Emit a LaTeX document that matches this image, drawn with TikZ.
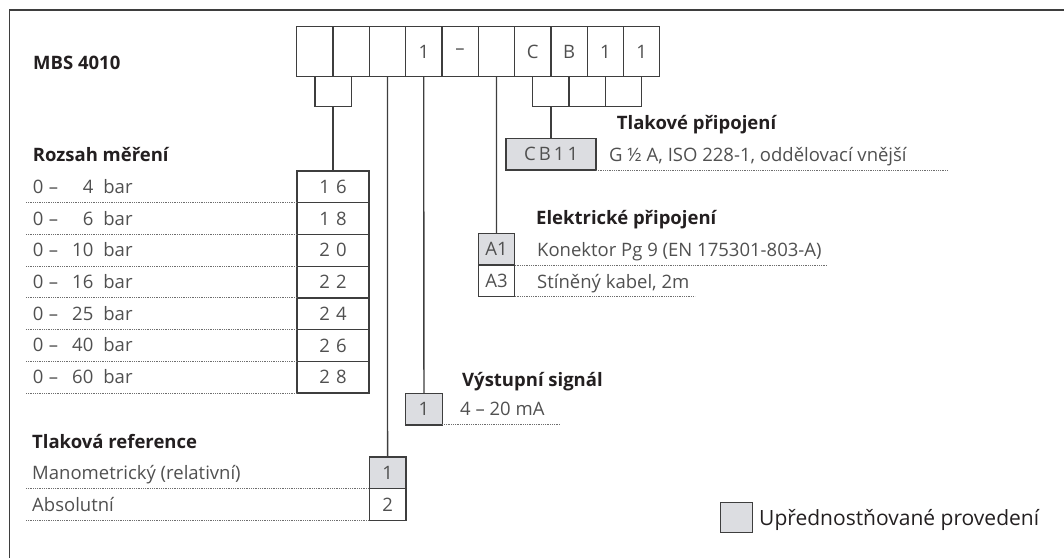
\documentclass[tikz,border=0pt]{standalone}
\usepackage{fontspec}
\setmainfont{Open Sans}
\usepackage{tikz}
\usetikzlibrary{positioning}
\definecolor{mbsline}{RGB}{62,62,62}
\definecolor{mbsfill}{RGB}{220,221,225}
\definecolor{mbstext}{RGB}{80,80,80}
\definecolor{mbshead}{RGB}{35,31,32}
\definecolor{mbsdot}{RGB}{110,110,110}
\newcommand{\bodyfont}{\fontsize{18.5}{22}\selectfont}
\newcommand{\barrow}[1]{\makebox[14.5pt][l]{0}\makebox[12pt][c]{–}\makebox[34pt][r]{#1}\hspace{10pt}bar}
\tikzstyle{codebox} = [rectangle, draw=mbsline, line width=1.3pt, minimum width=36.3pt, minimum height=50pt, inner sep=0pt, outer sep=0pt, text=mbstext, font=\bodyfont]
\tikzstyle{rangebox} = [codebox, minimum width=72pt, minimum height=31.7pt]
\tikzstyle{optbox} = [codebox, minimum width=36.5pt, minimum height=31.7pt]
\tikzstyle{pref} = [fill=mbsfill]
\tikzstyle{heading} = [anchor=west, inner sep=0pt, text height=13pt, text depth=0pt, text=mbshead, font=\bodyfont\bfseries]
\tikzstyle{valtext} = [anchor=west, inner sep=0pt, text height=13pt, text depth=0pt, text=mbstext, font=\bodyfont]
\tikzstyle{link} = [draw=mbsline, line width=1.3pt]
\tikzstyle{guide} = [draw=mbsdot, line width=0.8pt, densely dotted]

\begin{document}
\begin{tikzpicture}[x=1pt, y=-1pt]
\useasboundingbox (0,0) rectangle (1064,558);
\draw[link] (9.3,558) -- (9.3,10) -- (1064,10);
\coordinate (lm) at (26,0);

% type code
\node (mbs) [heading] at (33,63) {MBS 4010};
\node (c1) [codebox] at (314.9,51.7) {};
\node (c2) [codebox, right=0pt of c1] {};
\node (c3) [codebox, right=0pt of c2] {};
\node (c4) [codebox, right=0pt of c3] {1};
\node (c5) [codebox, right=0pt of c4] {–};
\node (c6) [codebox, right=0pt of c5] {};
\node (c7) [codebox, right=0pt of c6] {C};
\node (c8) [codebox, right=0pt of c7] {B};
\node (c9) [codebox, right=0pt of c8] {1};
\node (c10) [codebox, right=0pt of c9] {1};
\coordinate (br12) at (333.05,106.7);
\coordinate (br710) at (551.05,106.7);

% measuring range
\node (rzhead) [heading] at (32.7,155) {Rozsah měření};
\node (r16) [rangebox] at (333.05,186.9) {1\,\,6};
\node (r18) [rangebox, below=0pt of r16] {1\,\,8};
\node (r20) [rangebox, below=0pt of r18] {2\,\,0};
\node (r22) [rangebox, below=0pt of r20] {2\,\,2};
\node (r24) [rangebox, below=0pt of r22] {2\,\,4};
\node (r26) [rangebox, below=0pt of r24] {2\,\,6};
\node (r28) [rangebox, below=0pt of r26] {2\,\,8};
\node (t16) [valtext] at (32.7,186.9) {\barrow{4}};
\node (t18) [valtext] at (32.7,218.6) {\barrow{6}};
\node (t20) [valtext] at (32.7,250.3) {\barrow{10}};
\node (t22) [valtext] at (32.7,282.0) {\barrow{16}};
\node (t24) [valtext] at (32.7,313.7) {\barrow{25}};
\node (t26) [valtext] at (32.7,345.4) {\barrow{40}};
\node (t28) [valtext] at (32.7,377.1) {\barrow{60}};
\draw[guide] (lm |- r16.south) -- (r16.south west);
\draw[guide] (lm |- r18.south) -- (r18.south west);
\draw[guide] (lm |- r20.south) -- (r20.south west);
\draw[guide] (lm |- r22.south) -- (r22.south west);
\draw[guide] (lm |- r24.south) -- (r24.south west);
\draw[guide] (lm |- r26.south) -- (r26.south west);
\draw[guide] (lm |- r28.south) -- (r28.south west);

% pressure reference
\node (trhead) [heading] at (32,442) {Tlaková reference};
\node (tr1) [optbox, pref] at (387.6,472.8) {1};
\node (tr2) [optbox, below=0pt of tr1] {2};
\node (trt1) [valtext] at (32,473) {Manometrický (relativní)};
\node (trt2) [valtext] at (32,505) {Absolutní};
\draw[guide] (lm |- tr1.south) -- (tr1.south west);
\draw[guide] (lm |- tr2.south) -- (tr2.south west);

% output signal
\node (vshead) [heading] at (462,380) {Výstupní signál};
\node (vs1) [optbox, pref] at (423.9,409) {1};
\node (vst) [valtext] at (460,409) {4 – 20 mA};
\draw[guide] (vs1.south east) -- ++(118,0);

% electrical connection
\node (elhead) [heading] at (536,218) {Elektrické připojení};
\node (a1) [optbox, pref] at (496.5,249.2) {A1};
\node (a3) [optbox, below=0pt of a1] {A3};
\node (a1t) [valtext] at (537,250) {Konektor Pg 9 (EN 175301-803-A)};
\node (a3t) [valtext] at (537,281.5) {Stíněný kabel, 2m};
\draw[guide] (a1.south east) -- ++(312,0);
\draw[guide] (a3.south east) -- ++(180,0);

% pressure connection
\node (tlhead) [heading] at (616.7,123) {Tlakové připojení};
\node (cb) [codebox, pref, minimum width=90pt, minimum height=31.7pt] at (551.05,154.2) {C\,B\,1\,1};
\node (cbt) [valtext] at (609,154.5) {G ½ A, ISO 228-1, oddělovací vnější};
\draw[guide] (cb.south east) -- ++(352,0);

% connectors
\draw[link] (c1.south) |- (br12) -| (c2.south);
\draw[link] (br12) -- (r16.north);
\draw[link] (c3.south) -- (tr1.north);
\draw[link] (c4.south) -- (vs1.north);
\draw[link] (c6.south) -- (a1.north);
\draw[link] (c7.south) |- (br710) -| (c10.south);
\draw[link] (c8.south) -- (c8.south |- br710);
\draw[link] (c9.south) -- (c9.south |- br710);
\draw[link] (br710) -- (cb.north);

% legend
\node (lgbox) [codebox, pref, minimum width=32pt, minimum height=29.6pt] at (736.7,517.5) {};
\node (lgtext) [valtext, text=mbshead, text height=15pt, font=\fontsize{21}{25}\selectfont] at (759,518) {Upřednostňované provedení};
\end{tikzpicture}
\end{document}
